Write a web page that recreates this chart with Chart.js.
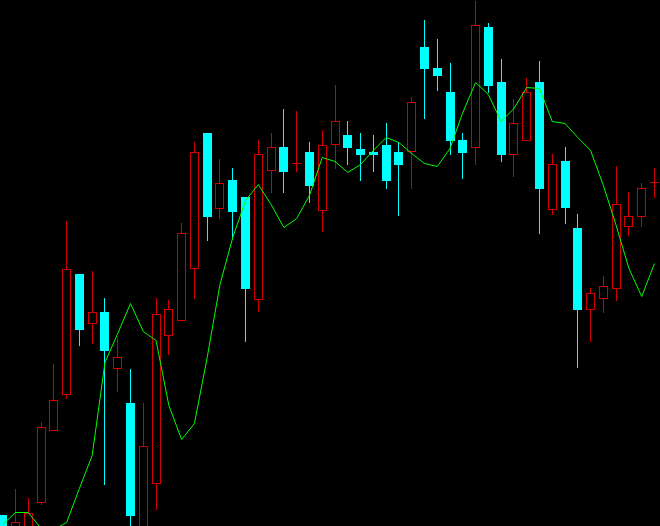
<!DOCTYPE html>
<html>
<head>
<meta charset="utf-8">
<title>candles</title>
<script src="https://cdn.jsdelivr.net/npm/chart.js@4.4.1/dist/chart.umd.min.js"></script>
<style>
  html, body { margin: 0; padding: 0; background: #000; overflow: hidden; }
  #wrap { width: 660px; height: 526px; background: #000; }
</style>
</head>
<body>
<div id="wrap"><canvas id="myChart" width="660" height="526"></canvas></div>
<script>
// price in points, one value per bar (bar 0 is the one cut at the left edge)
const opens  = [11, -5, -3, 23, 95, 131, 252, 202, 214, 157, 123, -10, 42, 190, 205, 257, 393, 317, 346, 329, 226, 355, 379, 362, 374, 315, 381, 391, 377, 374, 381, 374, 374, 479, 458, 434, 386, 378, 499, 444, 371, 385, 444, 316, 365, 298, 216, 227, 237, 299, 309, 343]
const highs  = [11, 37, 28, 104, 162, 305, 252, 255, 228, 188, 157, 123, 228, 226, 303, 384, 393, 367, 358, 329, 386, 393, 417, 415, 384, 396, 441, 405, 393, 391, 403, 384, 429, 506, 487, 463, 393, 525, 503, 467, 427, 448, 465, 372, 379, 312, 238, 250, 360, 334, 343, 358]
const lows   = [-10, -10, -10, 21, 95, 127, 180, 182, 41, 134, -15, -20, 16, 171, 205, 227, 285, 307, 286, 184, 214, 333, 333, 354, 323, 294, 357, 361, 345, 354, 337, 310, 337, 407, 435, 371, 347, 361, 433, 364, 349, 385, 292, 311, 302, 158, 184, 213, 225, 290, 299, 328]
const closes = [-5, 4, 13, 99, 126, 257, 196, 214, 175, 169, 10, 80, 212, 217, 293, 374, 309, 343, 314, 237, 372, 379, 354, 362, 340, 381, 405, 378, 371, 371, 345, 361, 424, 457, 450, 385, 373, 501, 440, 371, 403, 434, 337, 362, 318, 216, 233, 240, 322, 310, 338, 343]
// moving average (green line)
const ma     = [2, 14, 14, -2, -3, 4, 38, 71, 164, 193, 223, 195, 186, 121, 87, 103, 169, 242, 289, 326, 342, 322, 299, 308, 331, 369, 365, 354, 362, 376, 389, 384, 373, 363, 360, 378, 414, 444, 432, 405, 418, 439, 438, 405, 403, 389, 376, 341, 301, 258, 230, 263]

const upColor = '#d00000'
const downColor = '#00ffff'
const maColor = '#00ff00'

const isUp = opens.map((o, i) => closes[i] >= o) // red hollow = up bar
const candleColors = isUp.map(u => u ? upColor : downColor)

const wickData = highs.map((h, i) => ({ x: i, y: [lows[i], h] }))
const bodyData = opens.map((o, i) => ({ x: i, y: [o, closes[i]] }))
const maData = ma.map((v, i) => ({ x: i, y: v }))

// keep the candles on whole pixels like the terminal does
const snapBars = {
    id: 'snapBars',
    afterDatasetsUpdate(chart){
        chart.data.datasets.forEach((ds, k) => {
            const meta = chart.getDatasetMeta(k)
            if(meta.type !== 'bar') return
            meta.data.forEach(el => { el.x = Math.floor(el.x) + 0.5 })
        })
    }
}

let ctx = document.getElementById('myChart').getContext('2d')
let chart = new Chart(ctx, {
    type: 'bar',
    data: {
        datasets: [
            {
                type: 'line',
                label: 'MA',
                data: maData,
                yAxisID: 'yMa',
                borderColor: maColor,
                borderWidth: 1,
                pointRadius: 0,
                tension: 0,
                fill: false
            },
            {
                label: 'body',
                data: bodyData,
                backgroundColor: isUp.map(u => u ? '#000000' : downColor),
                borderColor: candleColors,
                borderWidth: 1,
                barThickness: 9,
                grouped: false,
                borderSkipped: false,
                inflateAmount: 0,
                minBarLength: 1
            },
            {
                label: 'wick',
                data: wickData,
                backgroundColor: candleColors,
                borderWidth: 0,
                barThickness: 1,
                grouped: false,
                borderSkipped: false,
                inflateAmount: 0
            }
        ]
    },
    options: {
        responsive: false,
        animation: false,
        devicePixelRatio: 1,
        layout: { padding: 0 },
        plugins: {
            legend: { display: false },
            tooltip: { enabled: false }
        },
        scales: {
            x: { type: 'linear', display: false, offset: false, min: -0.2128, max: 51.43 },
            y: { display: false, min: 0, max: 526 },
            yMa: { display: false, min: 0.5, max: 526.5 }
        }
    },
    plugins: [snapBars]
})
</script>
</body>
</html>
